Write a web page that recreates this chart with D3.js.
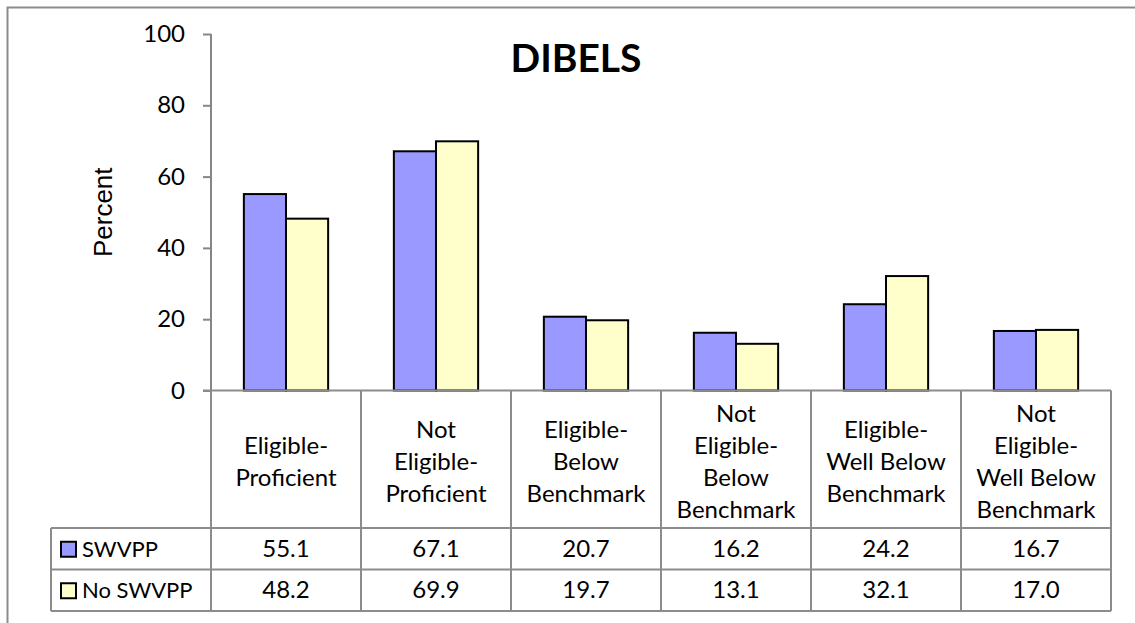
<!DOCTYPE html>
<html>
<head>
<meta charset="utf-8">
<script src="https://cdn.jsdelivr.net/npm/d3@7"></script>
<style>
  body { margin: 0; background: #fff; }
  text { font-family: Lato, "Open Sans", sans-serif; fill: #000; }
</style>
</head>
<body>
<div id="chart"></div>
<script>
// data
var categories = ["Eligible-\nProficient", "Not\nEligible-\nProficient", "Eligible-\nBelow\nBenchmark",
                  "Not\nEligible-\nBelow\nBenchmark", "Eligible-\nWell Below\nBenchmark", "Not\nEligible-\nWell Below\nBenchmark"];
var seriesNames = ["SWVPP", "No SWVPP"];
var swvpp = [55.1, 67.1, 20.7, 16.2, 24.2, 16.7];
var noSwvpp = [48.2, 69.9, 19.7, 13.1, 32.1, 17.0];
var yTicks = [0, 20, 40, 60, 80, 100];

var seriesValues = [swvpp, noSwvpp];
var colors = ["#9999ff", "#ffffcc"];

var w = 1135, h = 623;
var plotLeft = 211, plotRight = 1111, plotTop = 34, base = 390.5;
var rowTop = [528, 569.5], rowBottom = 611, legendLeft = 51;

var svg = d3.select("#chart").append("svg")
    .attr("width", w)
    .attr("height", h);

// chart frame (cut off on the right and bottom like the source)
svg.append("rect")
    .attr("x", 7.5).attr("y", 7.5)
    .attr("width", 1150).attr("height", 640)
    .attr("fill", "none")
    .attr("stroke", "#8c8c8c")
    .attr("stroke-width", 2);

var x = d3.scaleBand().domain(d3.range(categories.length)).range([plotLeft, plotRight]);
var x1 = d3.scaleBand().domain(d3.range(seriesNames.length)).range([0, x.bandwidth()]).paddingOuter(0.78);
var y = d3.scaleLinear().domain([0, 100]).range([base, plotTop]);

// bars
seriesValues.forEach(function (vals, s) {
    svg.append("g").selectAll("rect").data(vals).enter()
        .append("rect")
        .attr("x", function (d, i) { return x(i) + x1(s); })
        .attr("y", function (d) { return y(d); })
        .attr("width", x1.bandwidth())
        .attr("height", function (d) { return base - y(d); })
        .attr("fill", colors[s])
        .attr("stroke", "#000")
        .attr("stroke-width", 2);
});

// y axis
var yAxis = svg.append("g")
    .attr("transform", "translate(" + plotLeft + ",0)")
    .call(d3.axisLeft(y).tickValues(yTicks).tickSize(8).tickPadding(18));
yAxis.selectAll("path, line").attr("stroke", "#868686").attr("stroke-width", 2);
yAxis.select(".domain").attr("d", "M0," + plotTop + "V" + base);
yAxis.selectAll("text").style("font-size", "24px").style("font-family", "Lato, sans-serif").attr("fill", "#000");

svg.append("text")
    .attr("transform", "translate(112," + ((plotTop + base) / 2) + ") rotate(-90)")
    .attr("text-anchor", "middle")
    .style("font-family", "'Liberation Sans', Arial, sans-serif")
    .style("font-size", "26px")
    .text("Percent");

svg.append("text")
    .attr("x", 576).attr("y", 72)
    .attr("text-anchor", "middle")
    .style("font-size", "39px")
    .style("font-weight", "bold")
    .text("DIBELS");

// data table
var grid = svg.append("g").attr("stroke", "#8c8c8c").attr("stroke-width", 2);
grid.append("line").attr("x1", plotLeft - 8).attr("x2", plotRight).attr("y1", base).attr("y2", base);
rowTop.concat([rowBottom]).forEach(function (yy) {
    grid.append("line").attr("x1", legendLeft).attr("x2", plotRight).attr("y1", yy).attr("y2", yy);
});
d3.range(categories.length + 1).forEach(function (i) {
    var xx = i < categories.length ? x(i) : plotRight;
    grid.append("line").attr("x1", xx).attr("x2", xx).attr("y1", base).attr("y2", rowBottom);
});
grid.append("line").attr("x1", legendLeft).attr("x2", legendLeft).attr("y1", rowTop[0]).attr("y2", rowBottom);

// category labels
categories.forEach(function (c, i) {
    var lines = c.split("\n");
    var t = svg.append("text")
        .attr("text-anchor", "middle")
        .style("font-size", "24px");
    lines.forEach(function (l, k) {
        t.append("tspan")
            .attr("x", x(i) + x.bandwidth() / 2)
            .attr("y", 462 + (k - (lines.length - 1) / 2) * 32 + 8)
            .text(l);
    });
});

// value rows with legend keys
seriesValues.forEach(function (vals, s) {
    var cy = (rowTop[s] + (s + 1 < rowTop.length ? rowTop[s + 1] : rowBottom)) / 2;
    svg.append("rect")
        .attr("x", 61).attr("y", cy - 7)
        .attr("width", 15).attr("height", 15)
        .attr("fill", colors[s])
        .attr("stroke", "#000")
        .attr("stroke-width", 2);
    svg.append("text")
        .attr("x", 82).attr("y", cy + 8)
        .style("font-size", "22px")
        .text(seriesNames[s]);
    svg.append("g").selectAll("text").data(vals).enter()
        .append("text")
        .attr("x", function (d, i) { return x(i) + x.bandwidth() / 2; })
        .attr("y", cy + 8)
        .attr("text-anchor", "middle")
        .style("font-size", "24px")
        .text(function (d) { return d.toFixed(1); });
});
</script>
</body>
</html>
